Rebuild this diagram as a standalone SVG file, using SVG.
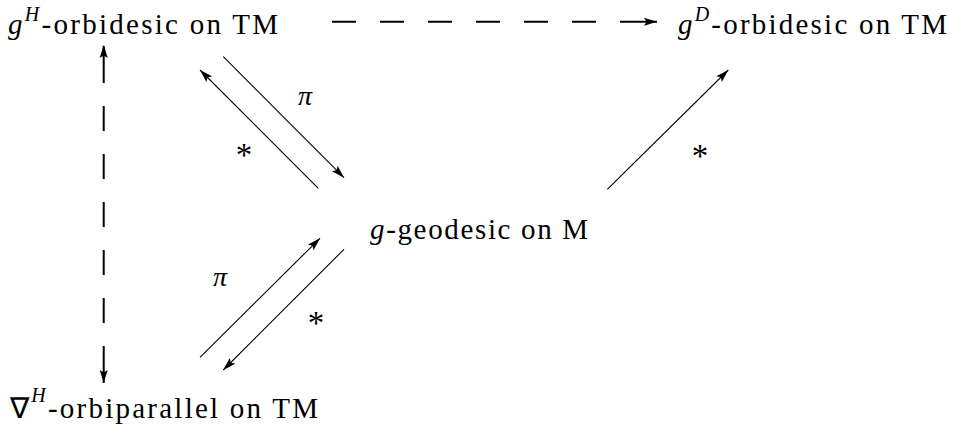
<svg xmlns="http://www.w3.org/2000/svg" width="954" height="424" viewBox="0 0 954 424">
<style>
.t{font-family:'Liberation Serif','Times New Roman',serif;font-size:29px;fill:#000}
.i{font-style:italic}
.sup{font-style:italic;font-size:20px}
.lbl{font-family:'Liberation Serif','Times New Roman',serif;fill:#000;text-anchor:middle}
.pi{font-style:italic;font-size:28px}
.ast{font-size:33px}
.thin{stroke:#000;stroke-width:1.1;fill:none}
.dash{stroke:#000;stroke-width:2;fill:none}
</style>
<defs>
<marker id="ah" markerUnits="userSpaceOnUse" markerWidth="15" markerHeight="10" refX="13" refY="5" orient="auto-start-reverse" viewBox="0 0 15 10">
<path d="M0,1 L13,5 L0,9 L2.5,5 Z" fill="#000"/>
</marker>
</defs>
<g id="connectors">
<path class="dash" d="M103.7,383 L103.7,45" stroke-dasharray="37 23 25 23 25 23 25 23 25 23 25 23 37" marker-start="url(#ah)" marker-end="url(#ah)"/>
<path class="dash" d="M332,21.7 L657,21.7" stroke-dasharray="24 24 24 24 24 24 24 24 24 24 24 24 37" marker-end="url(#ah)"/>
<path class="thin" d="M318.3,188.3 L200,70" marker-end="url(#ah)"/>
<path class="thin" d="M223.3,56.7 L344,177.7" marker-end="url(#ah)"/>
<path class="thin" d="M607.3,189.3 L728.3,70" marker-end="url(#ah)"/>
<path class="thin" d="M200,357.3 L320,238.3" marker-end="url(#ah)"/>
<path class="thin" d="M344,249.3 L223.3,370" marker-end="url(#ah)"/>
<text class="lbl pi" x="305" y="105">π</text>
<text class="lbl ast" x="244" y="166">*</text>
<text class="lbl ast" x="700" y="166.5">*</text>
<text class="lbl pi" x="220" y="286">π</text>
<text class="lbl ast" x="316" y="334">*</text>
</g>
<g id="gH">
<text class="t" x="8" y="34" textLength="270" lengthAdjust="spacing"><tspan class="i">g</tspan><tspan class="sup" dy="-13">H</tspan><tspan dy="13">-orbidesic on TM</tspan></text>
</g>
<g id="gD">
<text class="t" x="678" y="34" textLength="269" lengthAdjust="spacing"><tspan class="i">g</tspan><tspan class="sup" dy="-13">D</tspan><tspan dy="13">-orbidesic on TM</tspan></text>
</g>
<g id="g">
<text class="t" x="370" y="239" textLength="218" lengthAdjust="spacing"><tspan class="i">g</tspan>-geodesic on M</text>
</g>
<g id="nablaH">
<text class="t" x="10" y="418" textLength="308" lengthAdjust="spacing">∇<tspan class="sup" dy="-16">H</tspan><tspan dy="16">-orbiparallel on TM</tspan></text>
</g>
</svg>
